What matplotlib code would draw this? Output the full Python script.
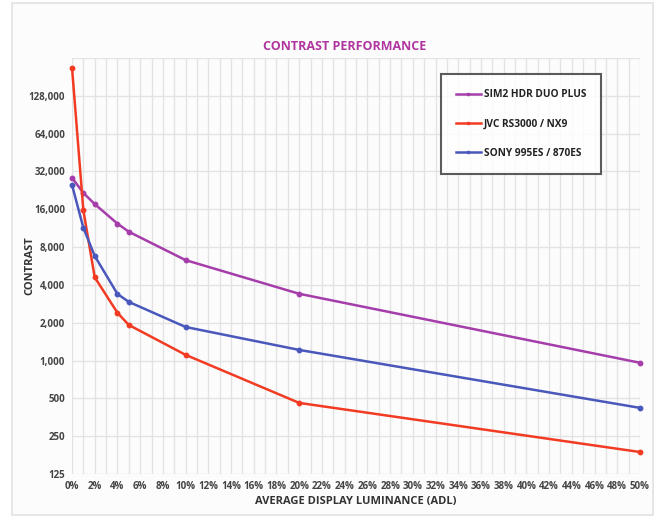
import matplotlib
matplotlib.use("Agg")
import matplotlib.pyplot as plt
from matplotlib.patches import Rectangle
from matplotlib.ticker import FixedLocator, FuncFormatter, MultipleLocator

plt.rcParams['font.family'] = ['Open Sans', 'DejaVu Sans']

# datos
adl = [0, 1, 2, 4, 5, 10, 20, 50]
sim2 = [28500, 21600, 17600, 12300, 10600, 6300, 3400, 960]
jvc = [215000, 15700, 4600, 2400, 1920, 1110, 460, 187]
sony = [25000, 11400, 6800, 3390, 2930, 1850, 1215, 420]

series = [
    ("SIM2 HDR DUO PLUS", sim2, "#a53dab"),
    ("JVC RS3000 / NX9", jvc, "#f23b22"),
    ("SONY 995ES / 870ES", sony, "#4a58bb"),
]

yticks = [125, 250, 500, 1000, 2000, 4000, 8000, 16000, 32000, 64000, 128000]

fig = plt.figure(figsize=(6.6, 5.22), dpi=100)
fig.patch.set_facecolor("white")
fig.patches.append(Rectangle((12/660, 7/522), 641/660, 512/522, transform=fig.transFigure,
                             facecolor="#fcfcfc", edgecolor="#e2e2e2", lw=1.2, zorder=-1))

ax = fig.add_axes([72/660, 48/522, 568/660, 416/522])
ax.set_facecolor("#fcfcfc")

for nombre, vals, col in series:
    ax.plot(adl, vals, color=col, lw=1.8, marker="o", ms=3.2, label=nombre, clip_on=False, zorder=3)

ax.set_yscale("log", base=2)
ax.set_ylim(125, 256000)
ax.set_xlim(0, 50)
ax.yaxis.set_major_locator(FixedLocator(yticks))
ax.yaxis.set_minor_locator(FixedLocator([]))
ax.yaxis.set_major_formatter(FuncFormatter(lambda v, p: f"{int(round(v)):,}"))
ax.xaxis.set_major_locator(MultipleLocator(2))
ax.xaxis.set_minor_locator(MultipleLocator(1))
ax.xaxis.set_major_formatter(FuncFormatter(lambda v, p: f"{int(v)}%"))

ax.grid(True, which="both", axis="x", color="#e3e3e3", lw=1)
ax.grid(True, which="major", axis="y", color="#e3e3e3", lw=1)
ax.axhline(256000, color="#e3e3e3", lw=1, zorder=0)
for s in ax.spines.values():
    s.set_visible(False)
ax.tick_params(which="both", length=0, labelsize=7, labelcolor="#444444", pad=5)
for t in ax.get_xticklabels() + ax.get_yticklabels():
    t.set_fontweight("bold")

ax.set_xlabel("AVERAGE DISPLAY LUMINANCE (ADL)", fontsize=8, fontweight="bold", color="#333333", labelpad=3)
ax.set_ylabel("CONTRAST", fontsize=8, fontweight="bold", color="#333333")
ax.yaxis.set_label_coords(-(72 - 35) / 568, 0.5)
fig.text(345/660, 1 - 46/522, "CONTRAST PERFORMANCE", ha="center", va="center",
         fontsize=9, fontweight="bold", color="#b0359e")

leg = ax.legend(loc="upper left", bbox_to_anchor=(441/660, 1 - 74/522), bbox_transform=fig.transFigure,
                frameon=True, fancybox=False, edgecolor="#333333", fontsize=7.3, labelspacing=1.8,
                handlelength=2.4, handletextpad=0.3, borderpad=1.5, borderaxespad=0, markerscale=0.5)
leg.get_frame().set_linewidth(1.5)
leg.get_frame().set_facecolor("white")
for t in leg.get_texts():
    t.set_fontweight("bold")
    t.set_color("#222222")

fig.savefig("out.png", dpi=100)
